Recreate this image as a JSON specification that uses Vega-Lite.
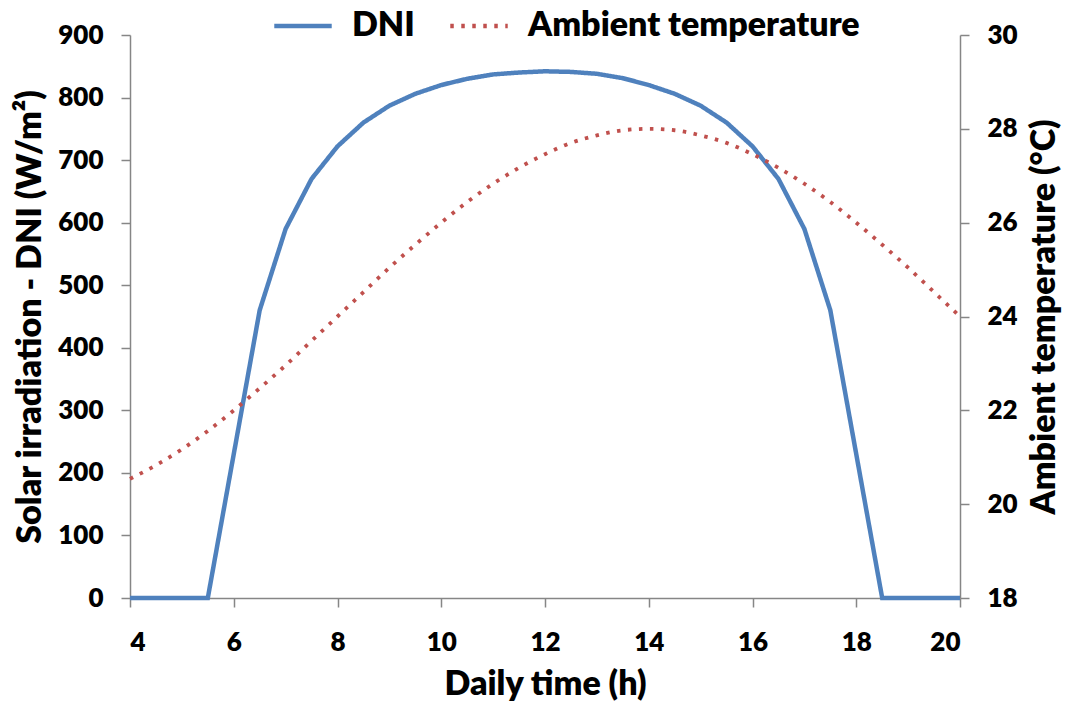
{
  "$schema": "https://vega.github.io/schema/vega-lite/v6.json",
  "width": 830,
  "height": 563,
  "autosize": "none",
  "padding": {"left": 130, "top": 35, "right": 108, "bottom": 106},
  "background": "white",
  "config": {
    "view": {"stroke": null},
    "font": "Lato",
    "axis": {
      "grid": false,
      "domainColor": "#868686",
      "tickColor": "#868686",
      "domainWidth": 1.5,
      "tickWidth": 1.5,
      "tickSize": 9,
      "labelFont": "Lato",
      "labelFontWeight": 800,
      "labelFontSize": 26,
      "labelColor": "black",
      "titleFont": "Lato",
      "titleFontWeight": 800,
      "titleFontSize": 34,
      "titleColor": "black"
    }
  },
  "data": {
    "values": [
      {"t": 4, "dni": 0, "temp": 20.54},
      {"t": 4.5, "dni": 0, "temp": 20.83},
      {"t": 5, "dni": 0, "temp": 21.17},
      {"t": 5.5, "dni": 0, "temp": 21.56},
      {"t": 6, "dni": 230, "temp": 22.0},
      {"t": 6.5, "dni": 460, "temp": 22.47},
      {"t": 7, "dni": 590, "temp": 22.96},
      {"t": 7.5, "dni": 670, "temp": 23.48},
      {"t": 8, "dni": 722, "temp": 24.0},
      {"t": 8.5, "dni": 760, "temp": 24.52},
      {"t": 9, "dni": 787, "temp": 25.04},
      {"t": 9.5, "dni": 806, "temp": 25.53},
      {"t": 10, "dni": 820, "temp": 26.0},
      {"t": 10.5, "dni": 830, "temp": 26.44},
      {"t": 11, "dni": 837, "temp": 26.83},
      {"t": 11.5, "dni": 840, "temp": 27.17},
      {"t": 12, "dni": 842, "temp": 27.46},
      {"t": 12.5, "dni": 841, "temp": 27.7},
      {"t": 13, "dni": 838, "temp": 27.86},
      {"t": 13.5, "dni": 831, "temp": 27.97},
      {"t": 14, "dni": 820, "temp": 28.0},
      {"t": 14.5, "dni": 806, "temp": 27.97},
      {"t": 15, "dni": 787, "temp": 27.86},
      {"t": 15.5, "dni": 760, "temp": 27.7},
      {"t": 16, "dni": 722, "temp": 27.46},
      {"t": 16.5, "dni": 670, "temp": 27.17},
      {"t": 17, "dni": 590, "temp": 26.83},
      {"t": 17.5, "dni": 460, "temp": 26.44},
      {"t": 18, "dni": 230, "temp": 26.0},
      {"t": 18.5, "dni": 0, "temp": 25.53},
      {"t": 19, "dni": 0, "temp": 25.04},
      {"t": 19.5, "dni": 0, "temp": 24.52},
      {"t": 20, "dni": 0, "temp": 24.0}
    ]
  },
  "encoding": {
    "x": {
      "field": "t",
      "type": "quantitative",
      "scale": {"domain": [4, 20], "nice": false},
      "axis": {
        "values": [4, 6, 8, 10, 12, 14, 16, 18, 20],
        "title": "Daily time (h)",
        "labelPadding": 22,
        "titlePadding": 12
      }
    }
  },
  "layer": [
    {
      "mark": {"type": "line", "strokeWidth": 4.5, "interpolate": "linear"},
      "encoding": {
        "y": {
          "field": "dni",
          "type": "quantitative",
          "scale": {"domain": [0, 900], "nice": false},
          "axis": {
            "values": [0, 100, 200, 300, 400, 500, 600, 700, 800, 900],
            "title": "Solar irradiation - DNI (W/m²)",
            "orient": "left",
            "labelPadding": 18,
            "titlePadding": 10
          }
        },
        "color": {
          "datum": "DNI",
          "type": "nominal",
          "scale": {"domain": ["DNI", "Ambient temperature"], "range": ["#4F81BD", "#C0504D"]},
          "legend": {
            "title": null,
            "orient": "none",
            "legendX": 142,
            "legendY": -40,
            "direction": "horizontal",
            "symbolType": "stroke",
            "symbolSize": 3300,
            "symbolStrokeWidth": 4.5,
            "labelFont": "Lato",
            "labelFontWeight": 800,
            "labelFontSize": 34,
            "labelColor": "black",
            "labelOffset": 18,
            "columnPadding": 26,
            "labelLimit": 500
          }
        },
        "strokeDash": {
          "datum": "DNI",
          "type": "nominal",
          "scale": {"domain": ["DNI", "Ambient temperature"], "range": [[1, 0], [3.5, 7.5]]},
          "legend": null
        }
      }
    },
    {
      "mark": {"type": "line", "strokeWidth": 3.8, "interpolate": "monotone"},
      "encoding": {
        "y": {
          "field": "temp",
          "type": "quantitative",
          "scale": {"domain": [18, 30], "nice": false},
          "axis": {
            "values": [18, 20, 22, 24, 26, 28, 30],
            "title": "Ambient temperature (°C)",
            "orient": "right",
            "titleAngle": 270,
            "titleBaseline": "top",
            "labelPadding": 18,
            "titlePadding": 10
          }
        },
        "color": {"datum": "Ambient temperature", "type": "nominal"},
        "strokeDash": {"datum": "Ambient temperature", "type": "nominal", "legend": null}
      }
    }
  ],
  "resolve": {"scale": {"y": "independent"}}
}
